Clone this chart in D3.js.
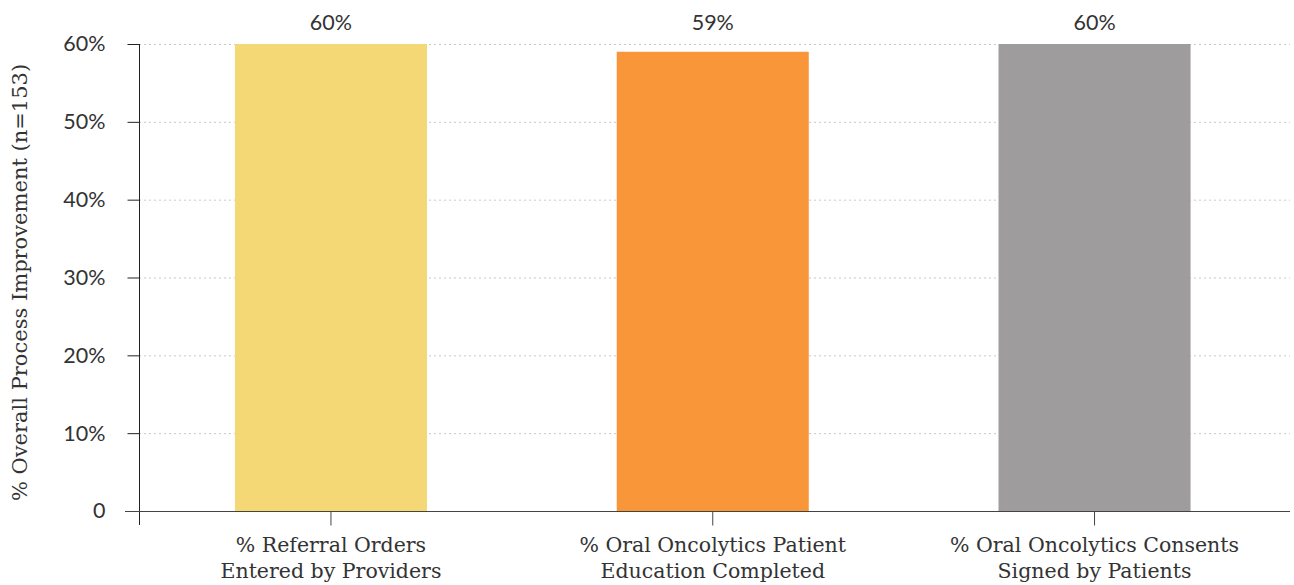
<!DOCTYPE html>
<html>
<head>
<meta charset="utf-8">
<script src="https://cdn.jsdelivr.net/npm/d3@7"></script>
<style>
  html, body { margin: 0; padding: 0; background: #fff; }
  svg { display: block; }
</style>
</head>
<body>
<svg id="chart" width="1294" height="585"></svg>
<script>
// Process improvement measures
const categories = [
  ["% Referral Orders", "Entered by Providers"],
  ["% Oral Oncolytics Patient", "Education Completed"],
  ["% Oral Oncolytics Consents", "Signed by Patients"]
];
const values = [60, 59, 60];
const barColors = ["#F4D876", "#F99639", "#9E9C9D"];
const yTicks = [0, 10, 20, 30, 40, 50, 60];
const yTitle = "% Overall Process Improvement (n=153)";

(function draw() {
  const svg = d3.select("#chart");
  const sansFont = "Lato, 'Open Sans', sans-serif";
  const serifFont = "'DejaVu Serif', serif";
  const ink = "#333";

  const plotLeft = 139, plotRight = 1290, plotTop = 44, plotBottom = 511;

  const x = d3.scaleBand()
    .domain(d3.range(categories.length))
    .range([plotLeft + 0.5, 1286])
    .paddingInner(0.497)
    .paddingOuter(0.25);

  const y = d3.scaleLinear().domain([0, 60]).range([plotBottom, plotTop]);

  // dotted gridlines
  svg.append("g")
    .selectAll("line")
    .data(yTicks.filter(d => d > 0))
    .join("line")
    .attr("x1", plotLeft).attr("x2", plotRight)
    .attr("y1", d => y(d) + 0.5).attr("y2", d => y(d) + 0.5)
    .attr("stroke", "#c8c8c8")
    .attr("stroke-width", 1)
    .attr("stroke-dasharray", "2,3");

  // bars
  svg.append("g")
    .selectAll("rect")
    .data(values)
    .join("rect")
    .attr("x", (d, i) => x(i))
    .attr("width", x.bandwidth())
    .attr("y", d => y(d))
    .attr("height", d => y(0) - y(d))
    .attr("fill", (d, i) => barColors[i]);

  // value labels
  svg.append("g")
    .selectAll("text")
    .data(values)
    .join("text")
    .attr("x", (d, i) => x(i) + x.bandwidth() / 2)
    .attr("y", 30)
    .attr("text-anchor", "middle")
    .attr("font-family", sansFont)
    .attr("font-size", 21.5)
    .attr("fill", ink)
    .text(d => d + "%");

  // y axis
  const yAxis = d3.axisLeft(y)
    .tickValues(yTicks)
    .tickSize(12)
    .tickPadding(22)
    .tickFormat(d => d === 0 ? "0" : d + "%");

  const gy = svg.append("g")
    .attr("transform", `translate(${plotLeft + 0.5},0)`)
    .call(yAxis);
  gy.select(".domain").remove();
  gy.append("line")
    .attr("x1", 0).attr("x2", 0)
    .attr("y1", plotTop).attr("y2", plotBottom + 14)
    .attr("stroke", "#222");
  gy.selectAll(".tick line").attr("stroke", "#222");
  gy.selectAll(".tick text")
    .attr("font-family", sansFont)
    .attr("font-size", 21.5)
    .attr("fill", ink);

  // x axis
  const xAxis = d3.axisBottom(x).tickSize(14).tickFormat("");
  const gx = svg.append("g")
    .attr("transform", `translate(0,${plotBottom + 0.5})`)
    .call(xAxis);
  gx.select(".domain").remove();
  gx.append("line")
    .attr("x1", 125).attr("x2", plotRight)
    .attr("y1", 0).attr("y2", 0)
    .attr("stroke", "#444");
  gx.selectAll(".tick line").attr("stroke", "#444");

  // category labels
  const lbl = svg.append("g")
    .selectAll("text")
    .data(categories)
    .join("text")
    .attr("text-anchor", "middle")
    .attr("font-family", serifFont)
    .attr("font-size", 20.5)
    .attr("fill", ink);
  lbl.selectAll("tspan")
    .data((d, i) => d.map(t => ({ t, i })))
    .join("tspan")
    .attr("x", d => x(d.i) + x.bandwidth() / 2)
    .attr("y", (d, j) => 552 + j * 26)
    .text(d => d.t);

  // y axis title
  svg.append("text")
    .attr("transform", `translate(27,${(plotTop + plotBottom) / 2 + 5}) rotate(-90)`)
    .attr("text-anchor", "middle")
    .attr("font-family", serifFont)
    .attr("font-size", 21)
    .attr("fill", ink)
    .text(yTitle);
})();
</script>
</body>
</html>
